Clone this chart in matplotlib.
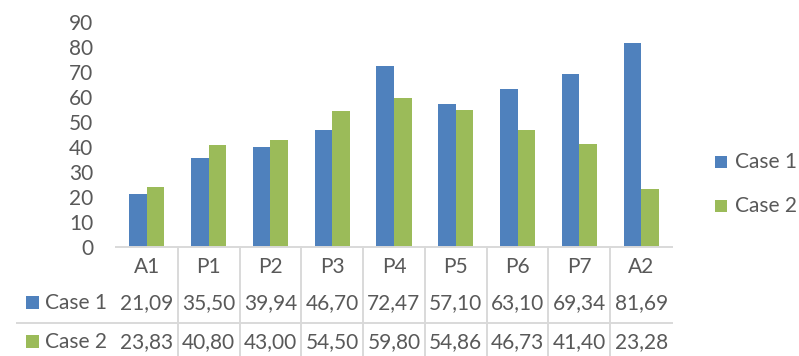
import matplotlib
matplotlib.use("Agg")
import numpy as np
import matplotlib.pyplot as plt
from matplotlib.patches import Rectangle
from matplotlib.transforms import blended_transform_factory

categories = ["A1", "P1", "P2", "P3", "P4", "P5", "P6", "P7", "A2"]
case1 = [21.09, 35.50, 39.94, 46.70, 72.47, 57.10, 63.10, 69.34, 81.69]
case2 = [23.83, 40.80, 43.00, 54.50, 59.80, 54.86, 46.73, 41.40, 23.28]
series_names = ["Case 1", "Case 2"]
yticks = list(range(0, 100, 10))

BLUE = "#4F81BD"
GREEN = "#9BBB59"
TEXT = "#595959"
GRID = "#D9D9D9"
FS = 15

plt.rcParams["font.family"] = ["Lato", "DejaVu Sans"]

W, H = 799, 356
fig = plt.figure(figsize=(W / 100, H / 100), dpi=100)
ax = fig.add_axes([116 / W, 109 / H, (672 - 116) / W, 225 / H])

x = np.arange(len(categories)) + 0.5
bw = 0.285
ax.bar(x - bw / 2, case1, bw, color=BLUE, linewidth=0)
ax.bar(x + bw / 2, case2, bw, color=GREEN, linewidth=0)

ax.set_xlim(0, len(categories))
ax.set_ylim(0, 90)
ax.set_yticks(yticks)
ax.set_xticks([])
ax.tick_params(axis="y", length=0, pad=16.5, labelsize=FS, labelcolor=TEXT)
for side in ["top", "right", "left"]:
    ax.spines[side].set_visible(False)
ax.spines["bottom"].set_color(GRID)
ax.spines["bottom"].set_linewidth(1.4)

# data table under the axis
tr = blended_transform_factory(ax.transData, fig.transFigure)
for i in range(1, len(categories)):
    ax.plot([i, i], [1 - 247 / H, 0], transform=tr, color=GRID, lw=1.4,
            clip_on=False)
fig.add_artist(plt.Line2D([17 / W, 672 / W], [1 - 323 / H] * 2,
                          color=GRID, lw=1.4))

row_y = {"header": 1 - 267 / H, "Case 1": 1 - 303 / H, "Case 2": 1 - 342 / H}
for xi, cat in zip(x, categories):
    ax.text(xi, row_y["header"], cat, transform=tr, ha="center", va="center",
            fontsize=FS, color=TEXT)
for name, vals, col in [("Case 1", case1, BLUE), ("Case 2", case2, GREEN)]:
    yy = row_y[name]
    for xi, v in zip(x, vals):
        ax.text(xi, yy, f"{v:.2f}".replace(".", ","), transform=tr,
                ha="center", va="center", fontsize=FS, color=TEXT)
    fig.add_artist(Rectangle((26 / W, yy - 6 / H), 13 / W, 13 / H,
                             facecolor=col, edgecolor="none"))
    fig.text(45 / W, yy, name, ha="left", va="center", fontsize=FS, color=TEXT)

# legend on the right
for name, col, py in [("Case 1", BLUE, 162), ("Case 2", GREEN, 206)]:
    yy = 1 - py / H
    fig.add_artist(Rectangle((715 / W, yy - 6 / H), 12 / W, 12 / H,
                             facecolor=col, edgecolor="none"))
    fig.text(735 / W, yy, name, ha="left", va="center", fontsize=FS, color=TEXT)

fig.savefig("out.png", dpi=100)
